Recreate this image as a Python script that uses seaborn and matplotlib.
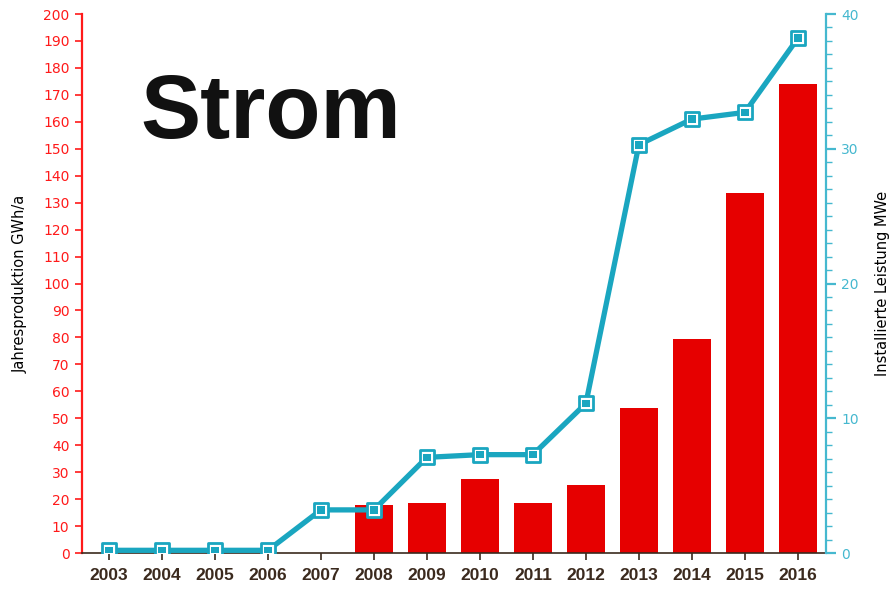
import numpy as np
import pandas as pd
import matplotlib
matplotlib.use("Agg")
import matplotlib.pyplot as plt
import seaborn as sns

years = ["2003", "2004", "2005", "2006", "2007", "2008", "2009",
         "2010", "2011", "2012", "2013", "2014", "2015", "2016"]
production_gwh = [0, 0, 0, 0, 0, 17.8, 18.6, 27.5, 18.6, 25.2, 53.8, 79.5, 133.6, 174.0]
capacity_mwe = [0.2, 0.2, 0.2, 0.2, 3.2, 3.2, 7.1, 7.3, 7.3, 11.1, 30.3, 32.2, 32.7, 38.2]

RED = "#e60000"
AXIS_RED = "#ff1a1a"
TEAL = "#1aa6c0"
TEAL_AXIS = "#45b8cf"
DARK = "#3b2a1e"

sns.set_theme(style="white")
plt.rcParams["font.family"] = ["DejaVu Sans"]

df = pd.DataFrame({"year": years, "prod": production_gwh, "cap": capacity_mwe})
df["pos"] = np.arange(len(years))

fig = plt.figure(figsize=(8.9, 5.89), dpi=100)
ax = fig.add_axes([0.0921, 0.0611, 0.8359, 0.9151])

# Annual production as bars on the left axis
sns.barplot(data=df, x="year", y="prod", color=RED, saturation=1, width=0.72,
            edgecolor="none", ax=ax)
ax.set_ylim(0, 200)
ax.set_xlim(-0.51, 13.53)
ax.set_yticks(np.arange(0, 201, 10))
ax.tick_params(axis="y", colors=AXIS_RED, labelcolor=AXIS_RED, labelsize=10,
               length=5, width=1.2, direction="out", left=True, pad=4)
ax.tick_params(axis="x", colors=DARK, labelsize=12.5, length=5, width=1.2,
               direction="out", bottom=True, pad=6)
for lbl in ax.get_xticklabels():
    lbl.set_fontweight("bold")
    lbl.set_color(DARK)
    lbl.set_family(["Liberation Sans", "DejaVu Sans"])
ax.set_xlabel("")
ax.set_ylabel("Jahresproduktion GWh/a", fontsize=10.5, color="black", labelpad=11)
for side in ("top", "right"):
    ax.spines[side].set_visible(False)
ax.spines["left"].set_color(AXIS_RED)
ax.spines["left"].set_linewidth(1.6)
ax.spines["bottom"].set_color(DARK)
ax.spines["bottom"].set_linewidth(1.2)

# Installed capacity as a line with square markers on the right axis
ax2 = ax.twinx()
ax2.set_ylim(0, 40)

sns.lineplot(data=df, x="pos", y="cap", color=TEAL, linewidth=3.8, ax=ax2,
             sort=False, estimator=None, solid_joinstyle="round",
             solid_capstyle="round", zorder=3)
sns.scatterplot(data=df, x="pos", y="cap", marker="s", s=105, color="white",
                edgecolor=TEAL, linewidth=2.0, ax=ax2, zorder=4)
sns.scatterplot(data=df, x="pos", y="cap", marker="s", s=30, color=TEAL,
                edgecolor="none", ax=ax2, zorder=5)

ax2.set_xlim(-0.51, 13.53)
ax2.set_yticks([0, 10, 20, 30, 40])
ax2.set_yticks(np.arange(0, 41, 1), minor=True)
ax2.tick_params(axis="y", which="major", colors=TEAL_AXIS, labelcolor=TEAL_AXIS,
                labelsize=10, length=7, width=1.6, direction="out", right=True, pad=4)
ax2.tick_params(axis="y", which="minor", colors=TEAL_AXIS, length=4, width=1.0,
                direction="out", right=True)
ax2.set_xlabel("")
ax2.set_ylabel("Installierte Leistung MWe", fontsize=10.5, color="black",
               rotation=90, labelpad=12)
for side in ("top", "left", "bottom"):
    ax2.spines[side].set_visible(False)
ax2.spines["right"].set_color(TEAL_AXIS)
ax2.spines["right"].set_linewidth(1.6)

fig.text(0.158, 0.766, "Strom", fontsize=65, fontweight="bold", color="#111111",
         family=["Liberation Sans", "DejaVu Sans"], va="baseline", ha="left")

fig.savefig("out.png", dpi=100, facecolor="white")
